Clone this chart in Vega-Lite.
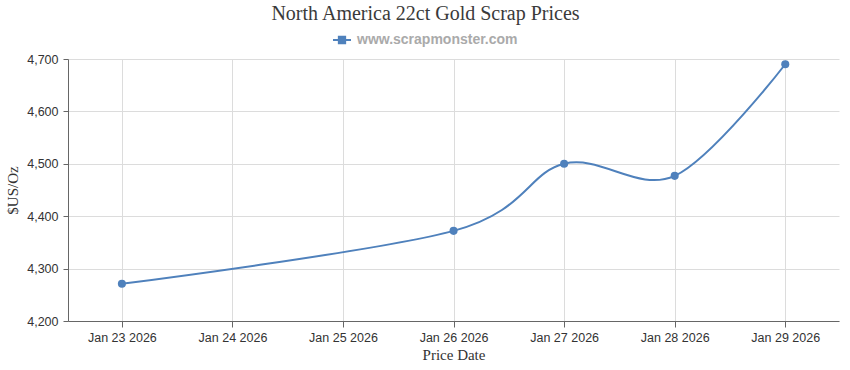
{
  "$schema": "https://vega.github.io/schema/vega-lite/v6.json",
  "width": 771,
  "height": 262,
  "autosize": {"type": "none"},
  "padding": {"left": 68, "top": 59, "right": 11, "bottom": 49},
  "background": "white",
  "title": {
    "text": "North America 22ct Gold Scrap  Prices",
    "font": "Liberation Serif",
    "fontSize": 20,
    "fontWeight": "normal",
    "color": "#3a3a3a",
    "anchor": "middle",
    "frame": "group",
    "dx": -28,
    "baseline": "alphabetic",
    "offset": -10
  },
  "data": {
    "values": [
      {"date": "2026-01-23T00:00:00", "price": 4271, "series": "www.scrapmonster.com"},
      {"date": "2026-01-26T00:00:00", "price": 4372, "series": "www.scrapmonster.com"},
      {"date": "2026-01-27T00:00:00", "price": 4500, "series": "www.scrapmonster.com"},
      {"date": "2026-01-28T00:00:00", "price": 4477, "series": "www.scrapmonster.com"},
      {"date": "2026-01-29T00:00:00", "price": 4690, "series": "www.scrapmonster.com"}
    ]
  },
  "config": {
    "view": {"stroke": null},
    "axis": {
      "gridColor": "#dcdcdc",
      "gridWidth": 1,
      "domainColor": "#666666",
      "tickColor": "#666666",
      "labelFont": "Liberation Sans",
      "labelFontSize": 12.5,
      "labelColor": "#333333",
      "titleFont": "Liberation Serif",
      "titleFontSize": 15,
      "titleFontWeight": "normal",
      "titleColor": "#333333"
    }
  },
  "encoding": {
    "x": {
      "field": "date",
      "type": "temporal",
      "scale": {
        "domain": [
          {"year": 2026, "month": 1, "date": 22, "hours": 12, "minutes": 18},
          {"year": 2026, "month": 1, "date": 29, "hours": 11, "minutes": 40}
        ]
      },
      "axis": {
        "title": "Price Date",
        "format": "%b %d %Y",
        "tickCount": {"interval": "day", "step": 1},
        "tickSize": 6,
        "labelPadding": 4,
        "titlePadding": 4,
        "labelFlush": false,
        "labelOverlap": false
      }
    },
    "y": {
      "field": "price",
      "type": "quantitative",
      "scale": {"domain": [4200, 4700], "nice": false, "zero": false},
      "axis": {
        "title": "$US/Oz",
        "values": [4200, 4300, 4400, 4500, 4600, 4700],
        "format": ",d",
        "tickSize": 5,
        "labelPadding": 5,
        "titlePadding": 6
      }
    },
    "color": {
      "field": "series",
      "type": "nominal",
      "scale": {"range": ["#4f81bc"]},
      "legend": {
        "title": null,
        "orient": "none",
        "legendX": 264,
        "legendY": -29,
        "symbolType": "M-1,0L1,0M-0.35,-0.35L0.35,-0.35L0.35,0.35L-0.35,0.35Z",
        "symbolSize": 324,
        "symbolStrokeWidth": 2,
        "symbolFillColor": "#4f81bc",
        "symbolStrokeColor": "#4f81bc",
        "labelFont": "Liberation Sans",
        "labelFontSize": 14,
        "labelFontWeight": "bold",
        "labelColor": "#aaaaaa",
        "labelOffset": 5,
        "labelLimit": 400,
        "padding": 0
      }
    }
  },
  "layer": [
    {"mark": {"type": "line", "interpolate": "cardinal", "strokeWidth": 2}},
    {"mark": {"type": "point", "filled": true, "size": 65, "opacity": 1}}
  ]
}
